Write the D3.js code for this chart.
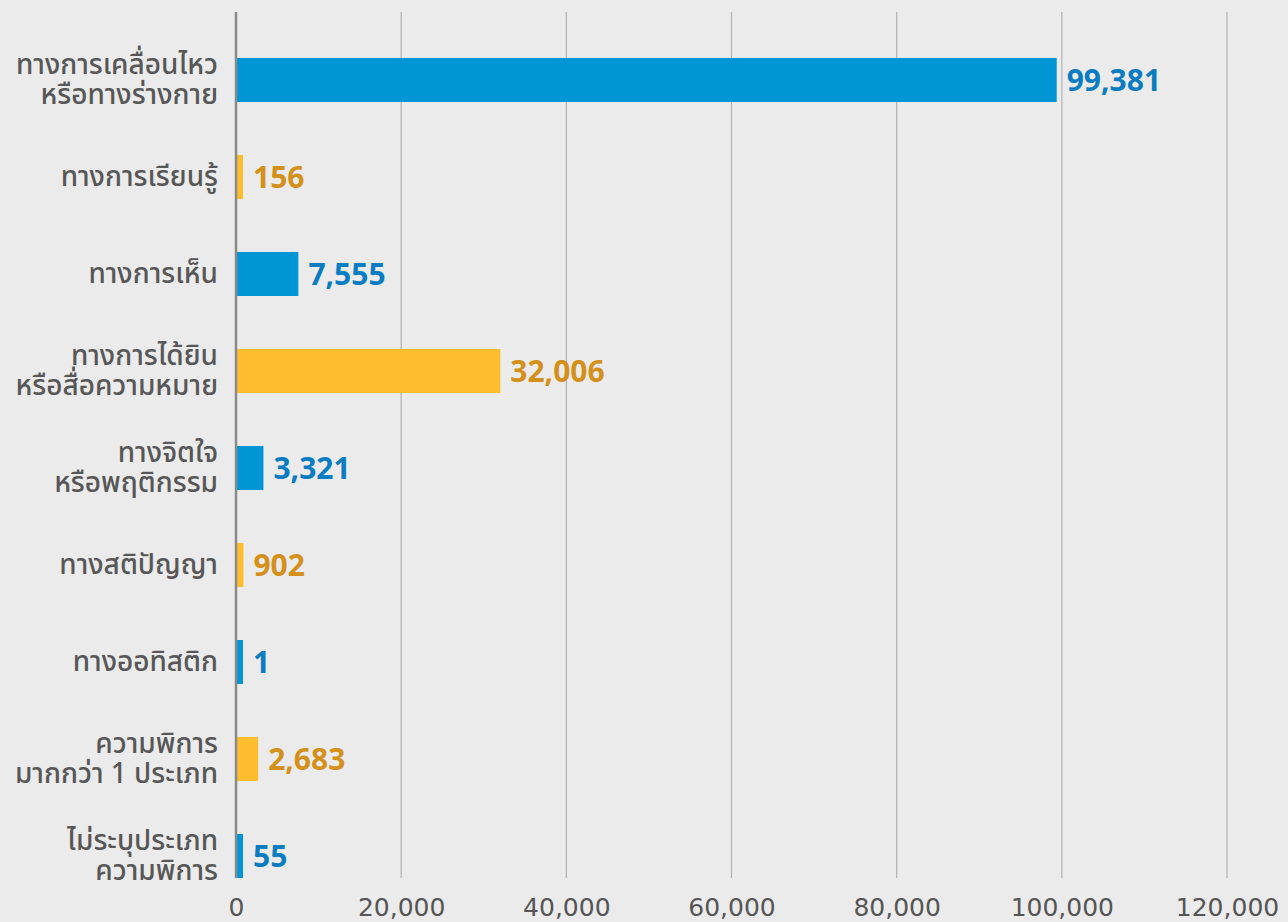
<!DOCTYPE html>
<html><head><meta charset="utf-8">
<script src="https://cdn.jsdelivr.net/npm/d3@7"></script>
<style>
html,body{margin:0;padding:0;background:#ebebeb;}
svg{display:block;}
</style></head>
<body>
<script>
const categories = [
  ["ทางการเคลื่อนไหว","หรือทางร่างกาย"],
  ["ทางการเรียนรู้"],
  ["ทางการเห็น"],
  ["ทางการได้ยิน","หรือสื่อความหมาย"],
  ["ทางจิตใจ","หรือพฤติกรรม"],
  ["ทางสติปัญญา"],
  ["ทางออทิสติก"],
  ["ความพิการ","มากกว่า 1 ประเภท"],
  ["ไม่ระบุประเภท","ความพิการ"]
];
const values = [99381, 156, 7555, 32006, 3321, 902, 1, 2683, 55];
const seriesColor = ["blue","yellow","blue","yellow","blue","yellow","blue","yellow","blue"];
const tickValues = [0, 20000, 40000, 60000, 80000, 100000, 120000];

const W = 1288, H = 922;
const barFill = {blue:"#0096d6", yellow:"#fdbd2c"};
const textFill = {blue:"#0a7cc1", yellow:"#d4901a"};
const svg = d3.select("body").append("svg").attr("width", W).attr("height", H);
svg.append("rect").attr("width", W).attr("height", H).attr("fill", "#ebebeb");

const x = d3.scaleLinear().domain([0, 120000]).range([236, 1227]);
const y = d3.scaleBand().domain(d3.range(values.length)).range([5, 931]).paddingInner(0.546).paddingOuter(0.546);
const gridTop = 12, gridBottom = 878;
const fmt = d3.format(",");

// gridlines
svg.append("g").selectAll("line").data(tickValues.slice(1)).join("line")
  .attr("x1", d => x(d)).attr("x2", d => x(d))
  .attr("y1", gridTop).attr("y2", gridBottom)
  .attr("stroke", "#b5b5b5").attr("stroke-width", 1.3);

// axis tick labels
const xAxis = d3.axisBottom(x).tickValues(tickValues).tickFormat(fmt).tickSize(0).tickPadding(0);
const ax = svg.append("g").attr("transform", `translate(0, 898)`).call(xAxis);
ax.select(".domain").remove();
ax.selectAll("text").attr("fill", "#555").attr("font-size", 25)
  .attr("font-family", "'DejaVu Sans', sans-serif")
  .attr("dy", "0.72em");

// bars
const minW = 7;
svg.append("g").selectAll("rect").data(values).join("rect")
  .attr("x", x(0))
  .attr("y", (d, i) => y(i))
  .attr("width", d => Math.max(x(d) - x(0), minW))
  .attr("height", y.bandwidth())
  .attr("fill", (d, i) => barFill[seriesColor[i]]);

// value labels
svg.append("g").selectAll("text").data(values).join("text")
  .attr("x", d => x(0) + Math.max(x(d) - x(0), minW) + 10)
  .attr("y", (d, i) => y(i) + y.bandwidth() / 2)
  .attr("dy", "0.36em")
  .attr("font-size", 30).attr("font-weight", 700)
  .attr("font-family", "'Open Sans', 'Noto Sans', sans-serif")
  .attr("fill", (d, i) => textFill[seriesColor[i]])
  .text(d => fmt(d));

// axis line
svg.append("line").attr("x1", x(0)).attr("x2", x(0)).attr("y1", gridTop).attr("y2", gridBottom)
  .attr("stroke", "#8a8a8a").attr("stroke-width", 2.5);

// category labels
const lab = svg.append("g").selectAll("text").data(categories).join("text")
  .attr("text-anchor", "end")
  .attr("font-size", 28).attr("font-weight", 500)
  .attr("font-family", "'Noto Sans Thai', 'Noto Sans', 'Tahoma', sans-serif")
  .attr("fill", "#575757");
lab.each(function(lines, i) {
  const cy = y(i) + y.bandwidth() / 2;
  const lh = 30;
  const start = cy - (lines.length - 1) * lh / 2;
  d3.select(this).selectAll("tspan").data(lines).join("tspan")
    .attr("x", 218)
    .attr("y", (l, j) => start + j * lh)
    .attr("dy", "0.33em")
    .text(l => l);
});
</script>
</body></html>
